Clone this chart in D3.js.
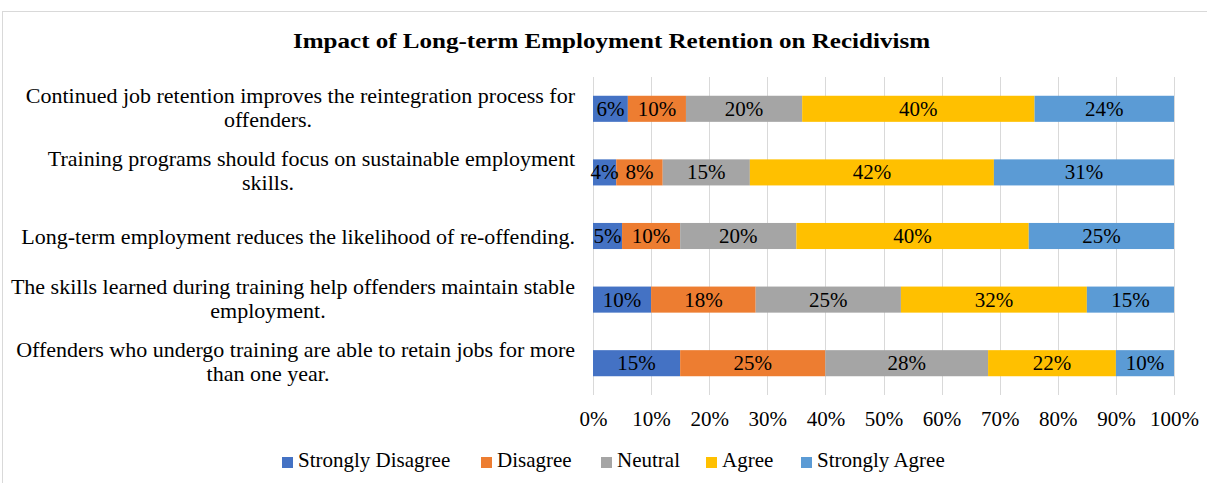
<!DOCTYPE html>
<html><head><meta charset="utf-8">
<script src="https://cdn.jsdelivr.net/npm/d3@7"></script>
<style>body{margin:0;background:#fff}svg{display:block}svg text{font-family:"Liberation Serif","Times New Roman",serif !important}</style>
</head><body><svg id="c" width="1207" height="483" font-family="Liberation Serif, Times New Roman, serif"></svg>
<script>
const categories = [
  ["Continued job retention improves the reintegration process for", "offenders."],
  ["Training programs should focus on sustainable employment", "skills."],
  ["Long-term employment reduces the likelihood of re-offending."],
  ["The skills learned during training help offenders maintain stable", "employment."],
  ["Offenders who undergo training are able to retain jobs for more", "than one year."]
];
const seriesNames = ["Strongly Disagree", "Disagree", "Neutral", "Agree", "Strongly Agree"];
const stronglyDisagree = [6, 4, 5, 10, 15];
const disagree = [10, 8, 10, 18, 25];
const neutral = [20, 15, 20, 25, 28];
const agree = [40, 42, 40, 32, 22];
const stronglyAgree = [24, 31, 25, 15, 10];
const tickValues = [0, 10, 20, 30, 40, 50, 60, 70, 80, 90, 100];
const colors = ["#4472C4", "#ED7D31", "#A5A5A5", "#FFC000", "#5B9BD5"];

const FONT = '"Liberation Serif","Times New Roman",serif';
const svg = d3.select("#c");
svg.append("rect").attr("x", 2.5).attr("y", 11.5).attr("width", 1220).attr("height", 490)
  .attr("fill", "#fff").attr("stroke", "#D9D9D9");

svg.append("text").attr("x", 611.5).attr("y", 48).attr("text-anchor", "middle")
  .attr("font-size", 22).attr("font-weight", "bold").attr("fill", "#000")
  .attr("textLength", 637).attr("lengthAdjust", "spacingAndGlyphs")
  .text("Impact of Long-term Employment Retention on Recidivism");

const x = d3.scaleLinear().domain([0, 100]).range([593, 1174]);
const y = d3.scaleBand().domain(d3.range(categories.length)).range([77, 395]).paddingInner(0.59).paddingOuter(0.295);

// gridlines
svg.append("g").selectAll("line").data(tickValues).join("line")
  .attr("x1", d => Math.round(x(d)) + 0.5).attr("x2", d => Math.round(x(d)) + 0.5)
  .attr("y1", 77).attr("y2", 395).attr("stroke", "#D9D9D9").attr("stroke-width", 1);

const seriesVals = [stronglyDisagree, disagree, neutral, agree, stronglyAgree];
const rows = categories.map((c, i) => {
  const o = { i };
  seriesNames.forEach((s, k) => o[s] = seriesVals[k][i]);
  return o;
});
const stack = d3.stack().keys(seriesNames)(rows);

const g = svg.append("g");
stack.forEach((layer, k) => {
  g.append("g").selectAll("rect").data(layer).join("rect")
    .attr("x", d => x(d[0])).attr("width", d => x(d[1]) - x(d[0]))
    .attr("y", d => y(d.data.i)).attr("height", y.bandwidth())
    .attr("fill", colors[k]);
});
stack.forEach((layer, k) => {
  g.append("g").selectAll("text").data(layer).join("text")
    .attr("x", d => (x(d[0]) + x(d[1])) / 2)
    .attr("y", d => y(d.data.i) + y.bandwidth() / 2 + 7)
    .attr("text-anchor", "middle").attr("font-size", 21).attr("fill", "#000")
    .attr("font-family", FONT)
    .text(d => (d[1] - d[0]) + "%");
});

// category labels
const lab = svg.append("g").attr("font-family", FONT);
categories.forEach((lines, i) => {
  const cy = y(i) + y.bandwidth() / 2;
  if (lines.length === 1) {
    lab.append("text").attr("x", 575).attr("y", cy + 7.5).attr("text-anchor", "end")
      .attr("font-size", 22).attr("fill", "#000").text(lines[0]);
  } else {
    lab.append("text").attr("x", 575).attr("y", cy - 6).attr("text-anchor", "end")
      .attr("font-size", 22).attr("fill", "#000").text(lines[0]);
    lab.append("text").attr("x", 268).attr("y", cy + 18).attr("text-anchor", "middle")
      .attr("font-size", 22).attr("fill", "#000").text(lines[1]);
  }
});

// x axis
const ax = svg.append("g").attr("transform", "translate(0,395)")
  .call(d3.axisBottom(x).tickValues(tickValues).tickFormat(d => d + "%").tickSize(0).tickPadding(16));
ax.attr("font-family", FONT).attr("font-size", 21);
ax.select(".domain").remove();
ax.selectAll("text").attr("font-size", 21).attr("fill", "#000").attr("font-family", FONT);

// legend
const legX = [282, 481, 601, 706, 801];
const leg = svg.append("g").attr("font-family", FONT);
seriesNames.forEach((s, k) => {
  leg.append("rect").attr("x", legX[k]).attr("y", 457).attr("width", 11).attr("height", 11).attr("fill", colors[k]);
  leg.append("text").attr("x", legX[k] + 16).attr("y", 467).attr("font-size", 21).attr("fill", "#000").text(s);
});
</script></body></html>
